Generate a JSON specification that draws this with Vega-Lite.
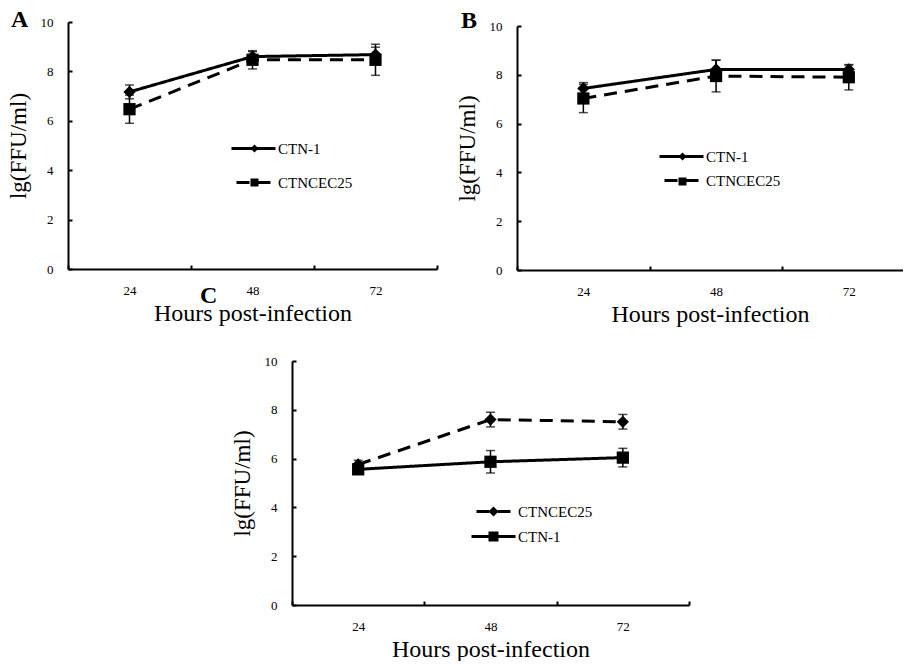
{
  "$schema": "https://vega.github.io/schema/vega-lite/v6.json",
  "background": "white",
  "padding": {"left": 7, "top": 8, "right": 0, "bottom": 0},
  "config": {
    "view": {"stroke": null},
    "font": "Liberation Serif",
    "axis": {"grid": false, "domainColor": "black", "domainWidth": 2, "tickColor": "black", "tickWidth": 2, "tickSize": -4, "labelColor": "black", "labelFont": "Liberation Serif", "labelFontSize": 13, "titleColor": "black", "titleFont": "Liberation Serif", "titleFontWeight": "normal"},
    "axisX": {"titleFontSize": 24, "labelPadding": 19, "titlePadding": 4},
    "axisY": {"titleFontSize": 23, "labelPadding": 19, "titlePadding": 10},
    "legend": {"orient": "none", "title": null, "padding": 0, "symbolStrokeWidth": 3, "labelFont": "Liberation Serif", "labelFontSize": 15, "labelColor": "black", "labelOffset": 17},
    "title": {"font": "Liberation Serif", "fontSize": 24, "fontWeight": "bold", "anchor": "start", "frame": "bounds", "color": "black", "baseline": "alphabetic"}
  },
  "datasets": {
    "d": [
      {"panel": "A", "series": "CTN-1", "hours": 24, "mean": 7.17, "sd": 0.28},
      {"panel": "A", "series": "CTN-1", "hours": 48, "mean": 8.6, "sd": 0.2},
      {"panel": "A", "series": "CTN-1", "hours": 72, "mean": 8.68, "sd": 0.3},
      {"panel": "A", "series": "CTNCEC25", "hours": 24, "mean": 6.47, "sd": 0.57},
      {"panel": "A", "series": "CTNCEC25", "hours": 48, "mean": 8.47, "sd": 0.37},
      {"panel": "A", "series": "CTNCEC25", "hours": 72, "mean": 8.47, "sd": 0.63},
      {"panel": "B", "series": "CTN-1", "hours": 24, "mean": 7.44, "sd": 0.24},
      {"panel": "B", "series": "CTN-1", "hours": 48, "mean": 8.22, "sd": 0.38},
      {"panel": "B", "series": "CTN-1", "hours": 72, "mean": 8.22, "sd": 0.18},
      {"panel": "B", "series": "CTNCEC25", "hours": 24, "mean": 7.03, "sd": 0.58},
      {"panel": "B", "series": "CTNCEC25", "hours": 48, "mean": 7.95, "sd": 0.65},
      {"panel": "B", "series": "CTNCEC25", "hours": 72, "mean": 7.9, "sd": 0.52},
      {"panel": "C", "series": "CTNCEC25", "hours": 24, "mean": 5.76, "sd": 0.17},
      {"panel": "C", "series": "CTNCEC25", "hours": 48, "mean": 7.6, "sd": 0.3},
      {"panel": "C", "series": "CTNCEC25", "hours": 72, "mean": 7.51, "sd": 0.3},
      {"panel": "C", "series": "CTN-1", "hours": 24, "mean": 5.56, "sd": 0.15},
      {"panel": "C", "series": "CTN-1", "hours": 48, "mean": 5.87, "sd": 0.46},
      {"panel": "C", "series": "CTN-1", "hours": 72, "mean": 6.04, "sd": 0.38}
    ]
  },
  "resolve": {"scale": {"shape": "independent", "strokeDash": "independent"}, "legend": {"shape": "independent", "strokeDash": "independent"}},
  "spacing": -42,
  "vconcat": [
    {
      "spacing": 18,
      "resolve": {"scale": {"shape": "independent", "strokeDash": "independent"}, "legend": {"shape": "independent", "strokeDash": "independent"}},
      "hconcat": [
        {
          "width": 369, "height": 247,
          "title": {"text": "A", "offset": -16, "dx": 4},
          "data": {"name": "d"},
          "transform": [{"filter": "datum.panel == 'A'"}],
          "encoding": {
            "x": {"field": "hours", "type": "quantitative", "title": "Hours post-infection", "scale": {"domain": [12, 84], "nice": false, "zero": false},
                  "axis": {"values": [12, 24, 36, 48, 60, 72, 84], "labelExpr": "datum.value % 24 == 0 ? datum.label : ''", "tickOpacity": {"condition": {"test": "datum.value % 24 == 0", "value": 0}, "value": 1}}},
            "y": {"field": "mean", "type": "quantitative", "title": "lg(FFU/ml)", "scale": {"domain": [0, 10], "nice": false}, "axis": {"values": [0, 2, 4, 6, 8, 10]}}
          },
          "layer": [
            {"mark": {"type": "line", "color": "black", "strokeWidth": 3},
             "encoding": {"strokeDash": {"field": "series", "type": "nominal", "scale": {"range": [[1, 0], [13, 8]]},
               "legend": {"legendX": 178, "legendY": 119, "rowPadding": 18, "symbolType": "M-4.4,0H4.4", "symbolSize": 100, "symbolStrokeWidth": 3, "symbolStrokeColor": "black", "symbolDashOffset": 16}}}},
            {"mark": {"type": "errorbar", "ticks": true, "color": "black", "thickness": 1.5, "size": 9},
             "encoding": {"yError": {"field": "sd"}, "detail": {"field": "series"}}},
            {"mark": {"type": "point", "filled": true, "color": "black", "size": 150, "opacity": 1},
             "encoding": {"shape": {"field": "series", "type": "nominal", "scale": {"domain": ["CTN-1", "CTNCEC25"], "range": ["diamond", "square"]},
               "legend": {"legendX": 179, "legendY": 119, "rowPadding": 13, "symbolSize": 64, "symbolStrokeWidth": 3, "symbolStrokeColor": "transparent", "symbolFillColor": "black", "labelExpr": "' '"}}}}
          ]
        },
        {
          "width": 386, "height": 248,
          "title": {"text": "B", "offset": -13, "dx": 5},
          "data": {"name": "d"},
          "transform": [{"filter": "datum.panel == 'B'"}],
          "encoding": {
            "x": {"field": "hours", "type": "quantitative", "title": "Hours post-infection", "scale": {"domain": [12, 81.8], "nice": false, "zero": false},
                  "axis": {"values": [12, 24, 36, 48, 60, 72], "labelExpr": "datum.value % 24 == 0 ? datum.label : ''", "tickOpacity": {"condition": {"test": "datum.value % 24 == 0", "value": 0}, "value": 1}}},
            "y": {"field": "mean", "type": "quantitative", "title": "lg(FFU/ml)", "scale": {"domain": [0, 10], "nice": false, "range": [248, 4]}, "axis": {"values": [0, 2, 4, 6, 8, 10]}}
          },
          "layer": [
            {"mark": {"type": "line", "color": "black", "strokeWidth": 3},
             "encoding": {"strokeDash": {"field": "series", "type": "nominal", "scale": {"range": [[1, 0], [13, 8]]},
               "legend": {"legendX": 157, "legendY": 127, "rowPadding": 8, "symbolType": "M-4.4,0H4.4", "symbolSize": 100, "symbolStrokeWidth": 3, "symbolStrokeColor": "black", "symbolDashOffset": 16}}}},
            {"mark": {"type": "errorbar", "ticks": true, "color": "black", "thickness": 1.5, "size": 9},
             "encoding": {"yError": {"field": "sd"}, "detail": {"field": "series"}}},
            {"mark": {"type": "point", "filled": true, "color": "black", "size": 150, "opacity": 1},
             "encoding": {"shape": {"field": "series", "type": "nominal", "scale": {"domain": ["CTN-1", "CTNCEC25"], "range": ["diamond", "square"]},
               "legend": {"legendX": 158, "legendY": 127, "rowPadding": 4, "symbolSize": 64, "symbolStrokeWidth": 3, "symbolStrokeColor": "transparent", "symbolFillColor": "black", "labelExpr": "' '"}}}}
          ]
        }
      ]
    },
    {
      "spacing": 0,
      "resolve": {"scale": {"shape": "independent", "strokeDash": "independent"}, "legend": {"shape": "independent", "strokeDash": "independent"}},
      "hconcat": [
        {"width": 132, "height": 10, "data": {"values": []}, "mark": {"type": "point", "opacity": 0}, "encoding": {}},
        {
          "width": 397, "height": 244,
          "title": {"text": "C", "offset": 47, "dx": -31},
          "data": {"name": "d"},
          "transform": [{"filter": "datum.panel == 'C'"}],
          "encoding": {
            "x": {"field": "hours", "type": "quantitative", "title": "Hours post-infection", "scale": {"domain": [12, 84], "nice": false, "zero": false},
                  "axis": {"values": [12, 24, 36, 48, 60, 72, 84], "labelExpr": "datum.value % 24 == 0 ? datum.label : ''", "tickOpacity": {"condition": {"test": "datum.value % 24 == 0", "value": 0}, "value": 1}}},
            "y": {"field": "mean", "type": "quantitative", "title": "lg(FFU/ml)", "scale": {"domain": [0, 10], "nice": false}, "axis": {"values": [0, 2, 4, 6, 8, 10]}}
          },
          "layer": [
            {"mark": {"type": "line", "color": "black", "strokeWidth": 3},
             "encoding": {"strokeDash": {"field": "series", "type": "nominal", "sort": "descending", "scale": {"range": [[13, 8], [1, 0]]},
               "legend": {"legendX": 194, "legendY": 143, "rowPadding": 9, "symbolType": "M-4.4,0H4.4", "symbolSize": 100, "symbolStrokeWidth": 3, "symbolStrokeColor": "black", "symbolDashOffset": 16}}}},
            {"mark": {"type": "errorbar", "ticks": true, "color": "black", "thickness": 1.5, "size": 9},
             "encoding": {"yError": {"field": "sd"}, "detail": {"field": "series"}}},
            {"mark": {"type": "point", "filled": true, "color": "black", "size": 150, "opacity": 1},
             "encoding": {"shape": {"field": "series", "type": "nominal", "scale": {"domain": ["CTNCEC25", "CTN-1"], "range": ["diamond", "square"]},
               "legend": {"legendX": 194, "legendY": 143, "rowPadding": 2, "symbolSize": 100, "symbolStrokeWidth": 3, "symbolStrokeColor": "transparent", "symbolFillColor": "black", "labelExpr": "' '"}}}}
          ]
        }
      ]
    }
  ]
}
